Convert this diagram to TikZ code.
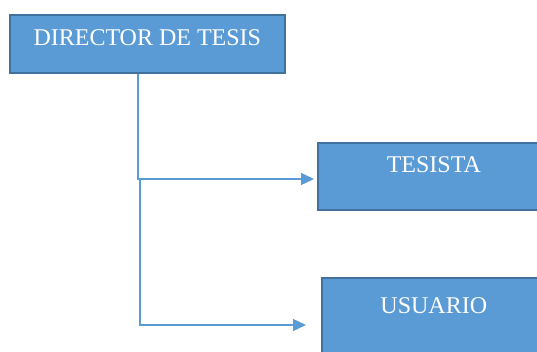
\documentclass[tikz,border=0pt]{standalone}
\usepackage{fontspec}
\setmainfont{Liberation Serif}
\usetikzlibrary{arrows.meta}

\definecolor{cajaazul}{HTML}{5B9BD5}
\definecolor{bordeazul}{HTML}{41719C}
\definecolor{lineaazul}{HTML}{5B9BD5}

\begin{document}
\begin{tikzpicture}[x=1pt,y=-1pt]

      \clip (0,0) rectangle (537,351);
      \fill[white] (0,0) rectangle (537,351);

      \begin{scope}[every node/.style={draw=bordeazul, line width=1.6pt, fill=cajaazul,
          text=white, anchor=north west, inner xsep=0pt, inner ysep=0pt,
          font=\fontsize{24}{28}\selectfont}]
        \node[minimum width=275pt, text height=31pt, text depth=27pt] (dir) at (9,14)   {DIRECTOR DE TESIS};
        \node[minimum width=232pt, text height=30pt, text depth=37pt] (tes) at (317,142) {TESISTA};
        \node[minimum width=224pt, text height=36pt, text depth=50pt] (usu) at (321,277) {USUARIO};
      \end{scope}

      % puntos de quiebre de las ramas
      \coordinate (r1) at (138,179);
      \coordinate (r2) at (140,179);
      \coordinate (r3) at (140,325);

      \begin{scope}[every path/.style={draw=lineaazul, line width=1.3pt,
          -{Triangle[length=13pt,width=12pt]}}]
        \path (dir.south -| r1) -- (r1) -- ([xshift=-3pt]tes.west |- r1);
        \path (r2) -- (r3) -- ([xshift=-15pt]usu.west |- r3);
      \end{scope}

    \end{tikzpicture}
\end{document}
